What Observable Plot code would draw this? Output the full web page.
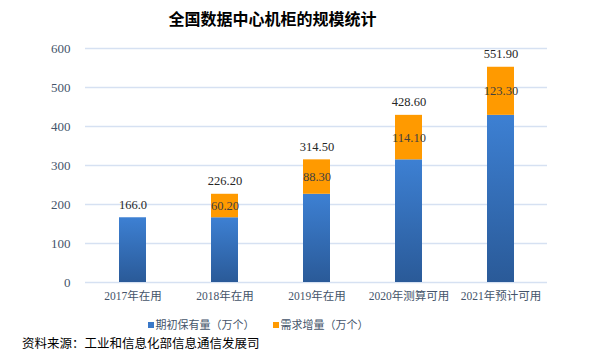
<!DOCTYPE html>
<html><head><meta charset="utf-8">
<script src="https://cdn.jsdelivr.net/npm/d3@7"></script>
<script src="https://cdn.jsdelivr.net/npm/@observablehq/plot@0.6"></script>
<style>
body{margin:0;background:#fff;width:612px;height:353px;overflow:hidden;font-family:"Liberation Serif","Noto Sans CJK SC",serif;}
#title{position:absolute;left:0;top:6px;width:545px;text-align:center;font:bold 16px "Noto Sans CJK SC","Liberation Sans",sans-serif;color:#000;}
#chart{position:absolute;left:0;top:36px;}
#chart svg text{font-family:"Liberation Serif","Noto Sans CJK SC",serif !important;}
#legend{position:absolute;left:0;top:316px;width:516px;text-align:center;font-size:11px;color:#44546a;}
#legend span.sw{display:inline-block;width:6px;height:6px;margin-right:2px;vertical-align:1px;}
#legend .item{margin:0 9px;}
#source{position:absolute;left:22px;top:333px;font-size:12.5px;color:#000;}
</style></head>
<body>
<div id="title">全国数据中心机柜的规模统计</div>
<div id="chart"></div>
<div id="legend"></div>
<div id="source">资料来源：工业和信息化部信息通信发展司</div>
<script>
const categories = ["2017年在用","2018年在用","2019年在用","2020年测算可用","2021年预计可用"];
const baseValues = [166.0, 166.0, 226.2, 314.5, 428.6];
const increaseValues = [0, 60.2, 88.3, 114.1, 123.3];
const totalLabels = ["166.0","226.20","314.50","428.60","551.90"];
const increaseLabels = ["","60.20","88.30","114.10","123.30"];
const yTicks = [0,100,200,300,400,500,600];
const seriesNames = ["期初保有量（万个）","需求增量（万个）"];
const seriesColors = ["#3a78c8","#ff9a00"];

const data = categories.map((c,i)=>({
  cat:c, base:baseValues[i], inc:increaseValues[i],
  total:baseValues[i]+increaseValues[i],
  totalLabel:totalLabels[i], incLabel:increaseLabels[i]
}));

const plot = Plot.plot({
  width:612, height:275,
  marginLeft:85, marginRight:65, marginTop:12, marginBottom:29,
  style:{fontFamily:'"Liberation Serif","Noto Sans CJK SC",serif', background:"transparent"},
  x:{type:"band", domain:categories, paddingInner:0.71, paddingOuter:0.355, label:null, tickSize:0, tickPadding:9},
  y:{domain:[0,600], ticks:yTicks, label:null, tickSize:0, tickPadding:15, tickFormat:d3.format("d")},
  marks:[
    Plot.ruleY(yTicks,{stroke:"#d6e1f2", strokeWidth:1.3}),
    Plot.barY(data,{x:"cat", y1:0, y2:"base", fill:"url(#blueGrad)"}),
    Plot.barY(data.filter(d=>d.inc>0),{x:"cat", y1:"base", y2:"total", fill:seriesColors[1]}),
    Plot.text(data,{x:"cat", y:"total", text:"totalLabel", dy:-13, fontSize:12.5, fill:"#262626"}),
    Plot.text(data.filter(d=>d.incLabel),{x:"cat", y:d=>d.base+d.inc/2, text:"incLabel", fontSize:12.5, fill:"#404040"})
  ]
});
plot.querySelectorAll('[aria-label="y-axis tick label"] text').forEach(t=>{t.setAttribute("fill","#44546a");t.style.fontSize="13px";});
plot.querySelectorAll('[aria-label="x-axis tick label"] text').forEach(t=>{t.setAttribute("fill","#44546a");t.style.fontSize="11.5px";});
const ns="http://www.w3.org/2000/svg";
const defs=document.createElementNS(ns,"defs");
const lg=document.createElementNS(ns,"linearGradient");
lg.setAttribute("id","blueGrad");lg.setAttribute("x1","0");lg.setAttribute("y1","0");lg.setAttribute("x2","0");lg.setAttribute("y2","1");
[["0%","#3d80d3"],["100%","#2a5a98"]].forEach(([o,c])=>{const s=document.createElementNS(ns,"stop");s.setAttribute("offset",o);s.setAttribute("stop-color",c);lg.appendChild(s);});
defs.appendChild(lg);plot.insertBefore(defs,plot.firstChild);
document.getElementById("chart").appendChild(plot);

const leg=document.getElementById("legend");
seriesNames.forEach((n,i)=>{
  const it=document.createElement("span");it.className="item";
  const sw=document.createElement("span");sw.className="sw";sw.style.background=seriesColors[i];
  it.appendChild(sw);it.appendChild(document.createTextNode(n));leg.appendChild(it);
});
</script>
</body></html>
